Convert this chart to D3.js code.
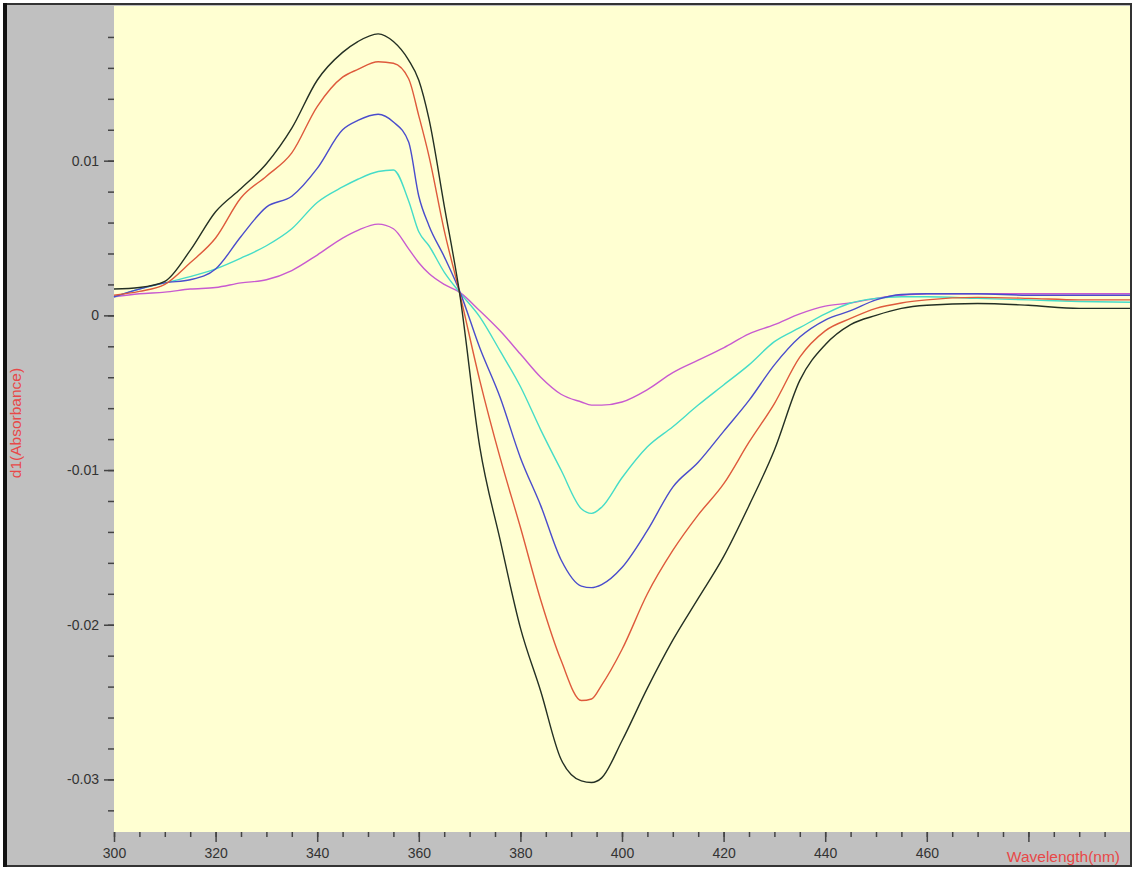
<!DOCTYPE html>
<html>
<head>
<meta charset="utf-8">
<script src="https://cdn.jsdelivr.net/npm/d3@7"></script>
<style>
  body { margin: 0; background: #ffffff; }
  text { font-family: Arial, "Liberation Sans", sans-serif; }
</style>
</head>
<body>
<div id="chart"></div>
<script>
  // wavelength grid (nm) shared by every trace
  var wavelengths = [300, 305, 310, 315, 320, 325, 330, 335, 340, 345, 348, 352, 355, 358, 360, 362, 365, 368,
                     372, 376, 380, 384, 388, 392, 394, 396, 400, 405, 410, 415, 420, 425, 430, 435, 440, 445,
                     450, 455, 460, 470, 480, 490, 500];

  // first derivative traces
  var blackVals = [0.0017, 0.0018, 0.0022, 0.0042, 0.0067, 0.0082, 0.0098, 0.0121, 0.0152, 0.0170, 0.0177, 0.0182,
                   0.0177, 0.0165, 0.0152, 0.0127, 0.0071, 0.0015, -0.0085, -0.0145, -0.0202, -0.0243, -0.0287,
                   -0.0301, -0.0302, -0.0299, -0.0275, -0.0241, -0.0210, -0.0183, -0.0156, -0.0123, -0.0087,
                   -0.0042, -0.0019, -0.0006, 0.0000, 0.00045, 0.00065, 0.00077, 0.00065, 0.00045, 0.00045];
  var redVals = [0.0013, 0.00155, 0.0020, 0.0034, 0.0050, 0.0076, 0.0090, 0.0105, 0.0135, 0.0154, 0.0159, 0.0164,
                 0.0163, 0.0153, 0.0129, 0.0103, 0.0055, 0.0015, -0.0042, -0.0092, -0.0137, -0.0184, -0.0223,
                 -0.0249, -0.0248, -0.0239, -0.0216, -0.0180, -0.0152, -0.0129, -0.0109, -0.0082, -0.0057,
                 -0.0027, -0.0010, -0.0002, 0.00045, 0.0008, 0.0010, 0.00116, 0.0011, 0.0010, 0.0010];
  var blueVals = [0.0012, 0.0017, 0.0021, 0.0023, 0.0030, 0.0051, 0.0070, 0.0077, 0.0095, 0.0120, 0.0126, 0.0130,
                  0.0125, 0.0112, 0.0077, 0.0058, 0.0038, 0.0016, -0.0021, -0.0053, -0.0092, -0.0123, -0.0158,
                  -0.0175, -0.0176, -0.0174, -0.0163, -0.0139, -0.0111, -0.0095, -0.0075, -0.0055, -0.0032,
                  -0.0014, -0.0003, 0.0003, 0.0010, 0.00135, 0.0014, 0.0014, 0.0013, 0.0013, 0.0013];
  var cyanVals = [0.0012, 0.0017, 0.0021, 0.0025, 0.0030, 0.0037, 0.0045, 0.0056, 0.0073, 0.0083, 0.0088, 0.0093,
                  0.0094, 0.0074, 0.0054, 0.0045, 0.0028, 0.0015, -0.0001, -0.0023, -0.0046, -0.0074, -0.0100,
                  -0.0125, -0.0128, -0.0124, -0.0105, -0.0085, -0.0072, -0.0058, -0.0045, -0.0032, -0.0017,
                  -0.0008, 0.0001, 0.0008, 0.0011, 0.0012, 0.0012, 0.0011, 0.0010, 0.0009, 0.00085];
  var magentaVals = [0.0012, 0.0014, 0.0015, 0.0017, 0.0018, 0.0021, 0.0023, 0.0029, 0.0039, 0.0050, 0.0055, 0.0059,
                     0.0056, 0.0043, 0.0034, 0.0027, 0.0020, 0.0015, 0.0003, -0.0010, -0.0025, -0.0040, -0.0051,
                     -0.0056, -0.0058, -0.0058, -0.0056, -0.0048, -0.0037, -0.0029, -0.0021, -0.0012, -0.0006,
                     0.0001, 0.0006, 0.0008, 0.0011, 0.0013, 0.0014, 0.0014, 0.0014, 0.0014, 0.0014];

  var seriesNames = ["magenta", "cyan", "blue", "red", "black"];
  var seriesColors = ["#c85ad0", "#45dcc8", "#4a4ccc", "#de5a3c", "#243024"];
  var seriesVals = [magentaVals, cyanVals, blueVals, redVals, blackVals];

  var xMajorTicks = [300, 320, 340, 360, 380, 400, 420, 440, 460, 480];
  var xTickLabels = ["300", "320", "340", "360", "380", "400", "420", "440", "460", ""];
  var yMajorTicks = [0.01, 0, -0.01, -0.02, -0.03];
  var yTickLabels = ["0.01", "0", "-0.01", "-0.02", "-0.03"];

  var W = 1132, H = 869;
  var plotL = 114, plotR = 1130, plotT = 6, plotB = 832;

  var svg = d3.select("#chart")
      .append("svg")
      .attr("width", W)
      .attr("height", H)

  // grey window background
  svg.append("rect")
      .attr("x", 4).attr("y", 4)
      .attr("width", 1127).attr("height", 862)
      .attr("fill", "#c0c0c0")

  var x = d3.scaleLinear().domain([300, 500]).range([plotL, plotR]);
  var y = d3.scaleLinear().domain([-0.0334, 0.02]).range([plotB, plotT]);

  // plot area
  svg.append("rect")
      .attr("x", plotL).attr("y", plotT)
      .attr("width", plotR - plotL).attr("height", plotB - plotT)
      .attr("fill", "#ffffd2")

  // x axis: minor ticks every 5 nm, major every 20
  var xMinor = d3.range(300, 500, 5);
  var gx = svg.append("g").attr("transform", "translate(0," + plotB + ")");
  gx.call(d3.axisBottom(x).tickValues(xMinor).tickSize(5).tickFormat(""));
  gx.select(".domain").remove();
  var gx2 = svg.append("g").attr("transform", "translate(0," + plotB + ")");
  gx2.call(d3.axisBottom(x).tickValues(xMajorTicks).tickSize(10).tickPadding(6)
      .tickFormat(function(d, i) { return xTickLabels[i]; }));
  gx2.select(".domain").remove();

  // y axis: minor ticks every 0.002, major every 0.01
  var yMinor = d3.range(-16, 10).map(function(k) { return k * 0.002; });
  var gy = svg.append("g").attr("transform", "translate(" + plotL + ",0)");
  gy.call(d3.axisLeft(y).tickValues(yMinor).tickSize(6).tickFormat(""));
  gy.select(".domain").remove();
  var gy2 = svg.append("g").attr("transform", "translate(" + plotL + ",0)");
  gy2.call(d3.axisLeft(y).tickValues(yMajorTicks).tickSize(10).tickPadding(5)
      .tickFormat(function(d, i) { return yTickLabels[i]; }));
  gy2.select(".domain").remove();

  svg.selectAll("g.tick line").attr("stroke", "#444").attr("stroke-width", 1.5);
  svg.selectAll("g.tick text")
      .attr("fill", "#333")
      .style("font-size", "14px")
      .style("font-family", "Arial, 'Liberation Sans', sans-serif");

  // traces
  var line = d3.line()
      .x(function(d) { return x(d[0]); })
      .y(function(d) { return y(d[1]); })
      .curve(d3.curveMonotoneX);

  var gLines = svg.append("g");
  seriesVals.forEach(function(vals, i) {
    gLines.append("path")
        .datum(wavelengths.map(function(w, k) { return [w, vals[k]]; }))
        .attr("class", "trace " + seriesNames[i])
        .attr("fill", "none")
        .attr("stroke", seriesColors[i])
        .attr("stroke-width", 1.4)
        .attr("d", line)
  });

  // axis titles
  svg.append("text")
      .attr("x", 1120).attr("y", 862)
      .attr("text-anchor", "end")
      .attr("fill", "#e84848")
      .style("font-size", "15.5px")
      .text("Wavelength(nm)")

  svg.append("text")
      .attr("transform", "translate(21,423) rotate(-90)")
      .attr("text-anchor", "middle")
      .attr("fill", "#e84848")
      .style("font-size", "15.5px")
      .text("d1(Absorbance)")

  // window frame
  svg.append("rect")
      .attr("x", 4).attr("y", 4)
      .attr("width", 1127).attr("height", 862)
      .attr("fill", "none")
      .attr("stroke", "#333")
      .attr("stroke-width", 2)
  svg.append("line")
      .attr("x1", 5).attr("x2", 5)
      .attr("y1", 3).attr("y2", 867)
      .attr("stroke", "#111")
      .attr("stroke-width", 4)
</script>
</body>
</html>
